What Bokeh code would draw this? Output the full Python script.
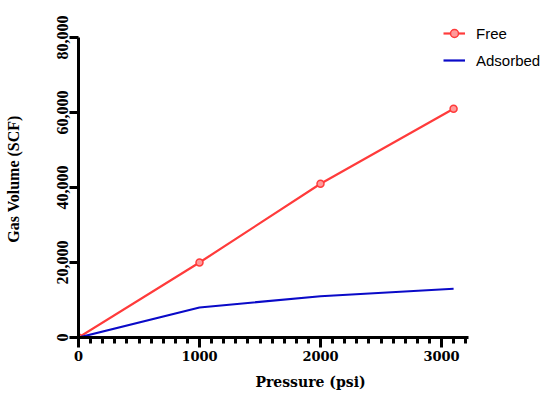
from bokeh.plotting import figure
from bokeh.models import FixedTicker, NumeralTickFormatter, Range1d, Legend
from bokeh.embed import file_html
from bokeh.resources import INLINE

pressure = [0, 1000, 2000, 3100]
free_gas = [0, 20000, 41000, 61000]
adsorbed_gas = [0, 8000, 11000, 13000]
x_major = [0, 1000, 2000, 3000]
x_minor = list(range(0, 3300, 100))
y_major = [0, 20000, 40000, 60000, 80000]

W, H = 542, 395
LEFT, TOP, BOTTOM_Y = 78, 20, 337
x_end = (W - LEFT) / 121.0 * 1000
y_end = (BOTTOM_Y - TOP) / 75.0 * 20000

p = figure(width=W, height=H, output_backend="svg", toolbar_location=None,
           x_range=Range1d(0, x_end), y_range=Range1d(0, y_end),
           min_border_left=LEFT, min_border_top=TOP, min_border_bottom=H - BOTTOM_Y,
           min_border_right=0)
p.outline_line_color = None
p.xgrid.visible = False
p.ygrid.visible = False

RED = "#ff3b3b"
BLUE = "#0a0ac8"
r1 = p.line(pressure, free_gas, line_color=RED, line_width=2.2)
r2 = p.scatter(pressure, free_gas, marker="circle", size=7, fill_color="#ff9a9a",
               line_color=RED, line_width=1.5)
r3 = p.line(pressure, adsorbed_gas, line_color=BLUE, line_width=2.2)

legend = Legend(items=[("Free", [r1, r2]), ("Adsorbed", [r3])], location=(365, 267),
                padding=0, margin=0, spacing=7, label_height=20, glyph_height=20, glyph_width=22,
                label_standoff=11, label_text_font="Liberation Sans", label_text_font_size="15px",
                label_text_color="black",
                border_line_color=None, background_fill_alpha=0)
p.add_layout(legend, "center")

xa = p.xaxis[0]
xa.bounds = (0, 3220)
xa.ticker = FixedTicker(ticks=x_major, minor_ticks=x_minor)
xa.axis_line_width = 3
xa.major_tick_line_width = 3
xa.minor_tick_line_width = 3
xa.major_tick_out = 10
xa.major_tick_in = 0
xa.minor_tick_out = 6
xa.minor_tick_in = 0
xa.major_label_text_font = "DejaVu Serif"
xa.major_label_text_font_style = "bold"
xa.major_label_text_font_size = "13px"
xa.major_label_text_color = "black"
xa.major_label_standoff = 3
xa.axis_label = "Pressure (psi)"
xa.axis_label_text_font = "DejaVu Serif"
xa.axis_label_text_font_style = "bold"
xa.axis_label_text_font_size = "14px"
xa.axis_label_text_color = "black"
xa.axis_label_standoff = 10

ya = p.yaxis[0]
ya.bounds = (0, 80000)
ya.ticker = FixedTicker(ticks=y_major, minor_ticks=[])
ya.formatter = NumeralTickFormatter(format="0,0")
ya.axis_line_width = 3
ya.major_tick_line_width = 3
ya.major_tick_out = 9
ya.major_tick_in = 0
ya.minor_tick_out = 0
ya.major_label_orientation = "vertical"
ya.major_label_text_font = "Liberation Serif"
ya.major_label_text_font_style = "bold"
ya.major_label_text_font_size = "16px"
ya.major_label_text_color = "black"
ya.major_label_standoff = 2
ya.axis_label = "Gas Volume (SCF)"
ya.axis_label_text_font = "Liberation Serif"
ya.axis_label_text_font_style = "bold"
ya.axis_label_text_font_size = "16px"
ya.axis_label_text_color = "black"
ya.axis_label_standoff = 32

open("out.html", "w").write(file_html(p, INLINE))
